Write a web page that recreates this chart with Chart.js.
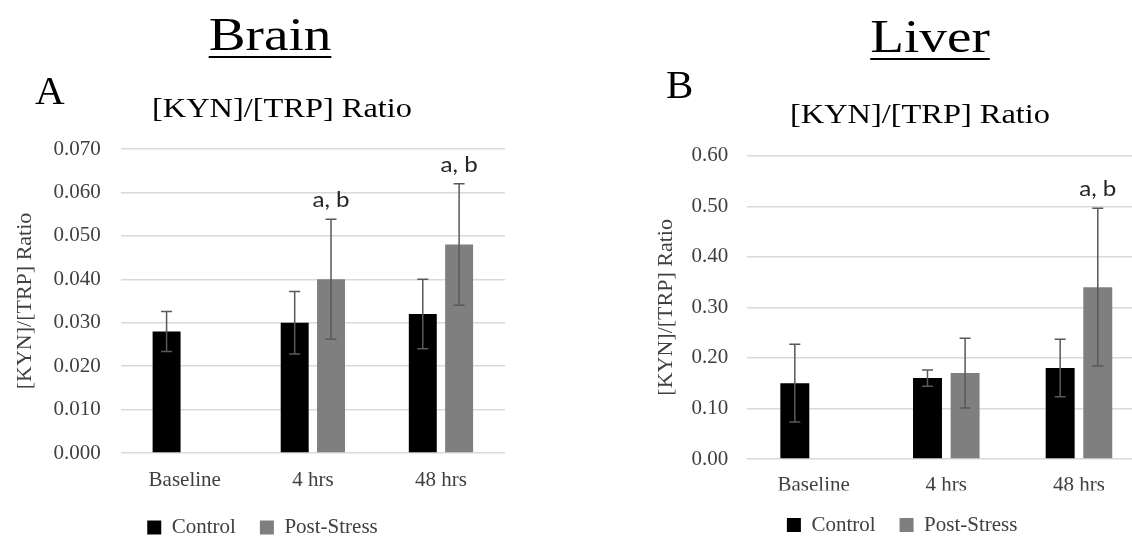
<!DOCTYPE html>
<html>
<head>
<meta charset="utf-8">
<script src="https://cdn.jsdelivr.net/npm/chart.js@4.4.1/dist/chart.umd.min.js"></script>
<style>
  html, body { margin: 0; padding: 0; background: #fff; overflow: hidden; width: 1132px; height: 538px; }
  canvas { position: absolute; top: 0; }
  #brainChart { left: 0; }
  #liverChart { left: 566px; }
</style>
</head>
<body>
<canvas id="brainChart" width="523" height="548"></canvas>
<canvas id="liverChart" width="671" height="548"></canvas>
<script>
const categories = ['Baseline', '4 hrs', '48 hrs'];
const seriesNames = ['Control', 'Post-Stress'];

const brainControl = [0.028, 0.030, 0.032];
const brainControlErr = [0.0046, 0.0072, 0.008];
const brainStress = [null, 0.040, 0.048];
const brainStressErr = [null, 0.0138, 0.014];
const brainStressNotes = ['', 'a, b', 'a, b'];
const brainTicks = ['0.000', '0.010', '0.020', '0.030', '0.040', '0.050', '0.060', '0.070'];

const liverControl = [0.15, 0.16, 0.18];
const liverControlErr = [0.077, 0.016, 0.057];
const liverStress = [null, 0.17, 0.34];
const liverStressErr = [null, 0.069, 0.156];
const liverStressNotes = ['', '', 'a, b'];
const liverTicks = ['0.00', '0.10', '0.20', '0.30', '0.40', '0.50', '0.60'];

const SERIF = '"Liberation Serif", "Times New Roman", serif';
const TEXT_GREY = '#404040';

// error bars + "a, b" notes, drawn from the bar elements and the y scale
const errorBars = {
  id: 'errorBars',
  afterDatasetsDraw(chart) {
    const ctx = chart.ctx;
    const y = chart.scales.y;
    chart.data.datasets.forEach((ds, i) => {
      const meta = chart.getDatasetMeta(i);
      meta.data.forEach((bar, j) => {
        const v = ds.data[j];
        if (v == null) return;
        const e = ds.errors[j];
        const top = y.getPixelForValue(v + e);
        const bot = y.getPixelForValue(v - e);
        ctx.save();
        ctx.strokeStyle = '#595959';
        ctx.lineWidth = 1.5;
        ctx.beginPath();
        ctx.moveTo(bar.x, top); ctx.lineTo(bar.x, bot);
        ctx.moveTo(bar.x - 5.5, top); ctx.lineTo(bar.x + 5.5, top);
        ctx.moveTo(bar.x - 5.5, bot); ctx.lineTo(bar.x + 5.5, bot);
        ctx.stroke();
        const note = ds.notes && ds.notes[j];
        if (note) {
          ctx.translate(bar.x, top - 12);
          ctx.scale(1.15, 1);
          ctx.fillStyle = '#262626';
          ctx.font = '21px Lato, "Open Sans", sans-serif';
          ctx.textAlign = 'center';
          ctx.textBaseline = 'alphabetic';
          ctx.fillText(note, 0, 0);
        }
        ctx.restore();
      });
    });
  }
};

// panel heading, letter and chart title
const headings = {
  id: 'headings',
  afterDraw(chart, args, opts) {
    const ctx = chart.ctx;
    const stretch = (text, x, y, font, sx) => {
      ctx.save();
      ctx.font = font;
      ctx.fillStyle = '#000';
      ctx.textAlign = 'center';
      ctx.textBaseline = 'alphabetic';
      ctx.translate(x, y);
      ctx.scale(sx, 1);
      ctx.fillText(text, 0, 0);
      const w = ctx.measureText(text).width;
      ctx.restore();
      return w * sx;
    };
    const w = stretch(opts.heading, opts.headX, opts.headY, '46px ' + SERIF, 1.2);
    ctx.save();
    ctx.strokeStyle = '#000';
    ctx.lineWidth = 2;
    ctx.beginPath();
    ctx.moveTo(opts.headX - w / 2, opts.headY + 7);
    ctx.lineTo(opts.headX + w / 2, opts.headY + 7);
    ctx.stroke();
    ctx.font = '41px ' + SERIF;
    ctx.fillStyle = '#000';
    ctx.textAlign = 'left';
    ctx.fillText(opts.letter, opts.letterX, opts.letterY);
    ctx.restore();
    stretch(opts.title, opts.titleX, opts.titleY, '27px ' + SERIF, 1.2);
  }
};

function makeChart(id, control, controlErr, stress, stressErr, notes, tickLabels, max, step, layout, head) {
  return new Chart(document.getElementById(id), {
    type: 'bar',
    data: {
      labels: categories,
      datasets: [
        {
          label: seriesNames[0],
          data: control,
          errors: controlErr,
          backgroundColor: '#000000',
          barPercentage: 0.77,
          categoryPercentage: 0.567
        },
        {
          label: seriesNames[1],
          data: stress,
          errors: stressErr,
          notes: notes,
          backgroundColor: '#7f7f7f',
          barPercentage: 0.77,
          categoryPercentage: 0.567
        }
      ]
    },
    options: {
      responsive: false,
      animation: false,
      layout: { padding: layout.padding },
      plugins: {
        legend: {
          position: 'bottom',
          labels: {
            color: TEXT_GREY,
            font: { family: SERIF, size: 21 },
            boxWidth: 14,
            boxHeight: 14,
            padding: 24
          }
        },
        title: { display: false },
        tooltip: { enabled: false },
        headings: head
      },
      scales: {
        x: {
          grid: { display: false, drawTicks: false },
          border: { display: false },
          ticks: { color: TEXT_GREY, font: { family: SERIF, size: 21 }, padding: layout.xPad },
          afterFit(scale) { scale.height = layout.xHeight; }
        },
        y: {
          min: 0,
          max: max,
          grid: { color: '#d9d9d9', lineWidth: 1.5, drawTicks: false },
          border: { display: false },
          ticks: {
            stepSize: step,
            color: TEXT_GREY,
            font: { family: SERIF, size: 21 },
            padding: layout.yPad,
            callback: (v, i) => tickLabels[i]
          },
          title: {
            display: true,
            text: '[KYN]/[TRP] Ratio',
            color: TEXT_GREY,
            font: { family: SERIF, size: 22 },
            padding: { top: layout.titlePad, bottom: 0 }
          },
          afterFit(scale) { scale.width = layout.yWidth; }
        }
      }
    },
    plugins: [errorBars, headings]
  });
}

makeChart('brainChart', brainControl, brainControlErr, brainStress, brainStressErr, brainStressNotes,
  brainTicks, 0.07, 0.01,
  { padding: { top: 149, left: 20, right: 18, bottom: 0 }, xHeight: 40, xPad: 15, yWidth: 100.7, yPad: 20, titlePad: -8 },
  { heading: 'Brain', headX: 270, headY: 50, letter: 'A', letterX: 35, letterY: 93,
    title: '[KYN]/[TRP] Ratio', titleX: 282, titleY: 117 });

makeChart('liverChart', liverControl, liverControlErr, liverStress, liverStressErr, liverStressNotes,
  liverTicks, 0.6, 0.1,
  { padding: { top: 155.7, left: 93, right: 91.7, bottom: 2.5 }, xHeight: 31.5, xPad: 14, yWidth: 88.3, yPad: 19, titlePad: -6 },
  { heading: 'Liver', headX: 364, headY: 52, letter: 'B', letterX: 100, letterY: 87,
    title: '[KYN]/[TRP] Ratio', titleX: 354, titleY: 123 });
</script>
</body>
</html>
